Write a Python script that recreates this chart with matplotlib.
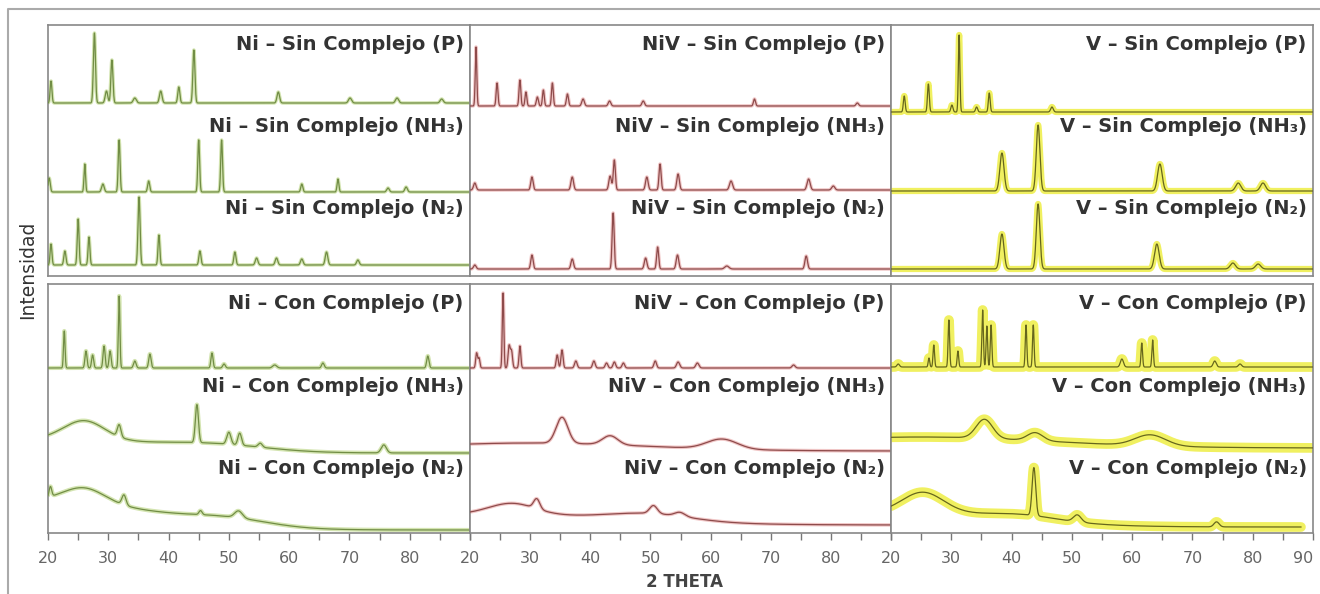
import numpy as np
import matplotlib.pyplot as plt
from matplotlib.lines import Line2D

# peaks: (2 theta, height, fwhm)
NI_SIN_P = [(20.5, 22, 0.35), (27.7, 70, 0.4), (29.7, 12, 0.5), (30.6, 43, 0.4), (34.4, 5, 0.6),
            (38.7, 12, 0.5), (41.7, 16, 0.4), (44.2, 53, 0.4), (58.2, 11, 0.5), (70.1, 5, 0.6),
            (77.9, 5, 0.6), (85.3, 4, 0.6)]
NI_SIN_NH3 = [(20.2, 14, 0.4), (26.1, 28, 0.3), (29.1, 8, 0.5), (31.8, 52, 0.35), (36.7, 11, 0.4),
              (45.0, 52, 0.35), (48.8, 52, 0.35), (62.1, 8, 0.4), (68.1, 13, 0.35), (76.4, 4, 0.5),
              (79.4, 5, 0.5)]
NI_SIN_N2 = [(20.5, 21, 0.35), (22.8, 14, 0.4), (25.0, 46, 0.35), (26.8, 28, 0.35), (35.1, 68, 0.4),
             (38.4, 30, 0.35), (45.2, 14, 0.4), (51.0, 13, 0.4), (54.6, 7, 0.5), (57.9, 7, 0.5),
             (62.1, 6, 0.5), (66.2, 13, 0.5), (71.4, 5, 0.5)]

NIV_SIN_P = [(21.0, 59, 0.3), (24.5, 23, 0.35), (28.3, 26, 0.35), (29.3, 14, 0.35), (31.2, 9, 0.4),
             (32.2, 16, 0.35), (33.7, 23, 0.35), (36.2, 12, 0.4), (38.8, 7, 0.5), (43.2, 5, 0.5),
             (48.8, 5, 0.5), (67.3, 7, 0.4), (84.4, 3, 0.5)]
NIV_SIN_NH3 = [(20.8, 7, 0.5), (30.3, 13, 0.45), (37.0, 13, 0.5), (43.3, 14, 0.5), (44.0, 30, 0.4),
               (49.4, 13, 0.5), (51.6, 26, 0.4), (54.6, 16, 0.5), (63.4, 9, 0.6), (76.3, 11, 0.6),
               (80.4, 4, 0.6)]
NIV_SIN_N2 = [(20.8, 4, 0.5), (30.3, 14, 0.45), (37.0, 10, 0.5), (43.8, 56, 0.4), (49.2, 11, 0.5),
              (51.2, 22, 0.4), (54.5, 14, 0.5), (62.7, 3, 0.8), (75.9, 13, 0.5)]

V_SIN_P = [(22.2, 16, 0.35), (26.2, 28, 0.35), (30.1, 7, 0.4), (31.3, 77, 0.3), (34.2, 5, 0.4),
           (36.3, 19, 0.35), (46.7, 5, 0.5)]
V_SIN_NH3 = [(38.4, 38, 0.8), (44.4, 66, 0.7), (64.6, 27, 0.9), (77.6, 8, 1.0), (81.7, 8, 1.0)]
V_SIN_N2 = [(38.4, 35, 0.8), (44.4, 65, 0.7), (64.1, 25, 0.9), (76.7, 6, 1.0), (80.9, 5, 1.0)]

NI_CON_P = [(22.7, 37, 0.3), (26.3, 17, 0.4), (27.4, 13, 0.4), (29.3, 22, 0.4), (30.3, 17, 0.4),
            (31.8, 72, 0.3), (34.4, 7, 0.5), (36.9, 14, 0.45), (47.2, 15, 0.4), (49.2, 4, 0.5),
            (57.6, 3, 0.8), (65.6, 5, 0.5), (83.0, 12, 0.45)]
NI_CON_NH3 = [(20.0, 14, 40), (26.0, 19, 8), (48.0, 6, 20), (31.8, 12, 0.7), (44.7, 38, 0.6),
              (50.0, 12, 0.8), (51.8, 12, 0.7), (55.2, 4, 0.8), (75.7, 8, 1.0)]
NI_CON_N2 = [(20.0, 30, 40), (26.0, 14, 8), (50.0, 7, 16), (20.4, 10, 0.5), (32.6, 10, 0.8),
             (45.3, 4, 0.6), (51.6, 7, 1.5)]

NIV_CON_P = [(21.1, 15, 0.35), (21.5, 10, 0.35), (25.5, 75, 0.3), (26.5, 22, 0.4), (26.9, 17, 0.4),
             (28.3, 22, 0.35), (34.5, 13, 0.4), (35.3, 18, 0.4), (37.6, 7, 0.5), (40.6, 7, 0.5),
             (42.7, 5, 0.5), (44.0, 6, 0.5), (45.5, 5, 0.5), (50.8, 7, 0.5), (54.6, 6, 0.6),
             (57.8, 5, 0.6), (73.8, 3, 0.6)]
NIV_CON_NH3 = [(30.0, 8, 45), (35.3, 26, 2.3), (43.3, 9, 3.0), (61.9, 10, 6.0)]
NIV_CON_N2 = [(22.0, 11, 50), (27.0, 11, 9), (50.0, 7, 16), (31.1, 10, 1.2), (50.5, 8, 1.5),
              (54.9, 4, 2.0)]

V_CON_P = [(21.2, 3, 0.5), (26.3, 9, 0.3), (27.1, 22, 0.3), (29.6, 47, 0.3), (31.1, 16, 0.3),
           (35.2, 57, 0.3), (35.9, 41, 0.3), (36.6, 42, 0.3), (42.4, 42, 0.3), (43.6, 42, 0.3),
           (58.3, 8, 0.6), (61.6, 24, 0.3), (63.4, 27, 0.3), (73.7, 6, 0.6), (77.9, 3, 0.6)]
V_CON_NH3 = [(25.0, 11, 50), (35.5, 19, 3.2), (43.9, 8, 3.0), (63.0, 11, 6.0)]
V_CON_N2 = [(22.0, 15, 40), (25.3, 20, 8), (42.0, 5, 14), (43.7, 48, 0.7), (50.9, 7, 1.5),
            (74.0, 5, 1.0)]

METALS = ["Ni", "NiV", "V"]
CONDITIONS = ["Sin Complejo", "Con Complejo"]
ATMOSPHERES = ["P", "NH₃", "N₂"]

PATTERNS = {
    (0, 0): [NI_SIN_P, NI_SIN_NH3, NI_SIN_N2],
    (0, 1): [NIV_SIN_P, NIV_SIN_NH3, NIV_SIN_N2],
    (0, 2): [V_SIN_P, V_SIN_NH3, V_SIN_N2],
    (1, 0): [NI_CON_P, NI_CON_NH3, NI_CON_N2],
    (1, 1): [NIV_CON_P, NIV_CON_NH3, NIV_CON_N2],
    (1, 2): [V_CON_P, V_CON_NH3, V_CON_N2],
}
X_END = {(1, 2, 2): 88.0}

# stacking offsets of the three traces in each panel
OFFSETS = {
    (0, 0): [173, 84, 11], (0, 1): [170, 86, 7], (0, 2): [164, 85, 7],
    (1, 0): [165, 80, 3], (1, 1): [165, 82, 8], (1, 2): [166, 85, 6],
}
LABEL_Y = [[231, 149, 67], [230, 146, 65]]

LINE_COLORS = ["#718d45", "#8e4b4b", "#66661c"]
HALO_COLORS = ["#d3e4b0", "#f0c6c6", "#f0f060"]
HALO_WIDTHS = [[2.5, 2.5, 4.5], [3.0, 2.5, 7.0]]


def pattern(x, peaks):
    y = np.zeros_like(x)
    for c, h, w in peaks:
        y += h * np.exp(-4 * np.log(2) * (x - c) ** 2 / w ** 2)
    return y


fig = plt.figure(figsize=(13.2, 5.94), dpi=100)
W, H = 1320, 594
col_x = [48, 470, 891, 1313]
row_y = [(25, 276), (284, 533)]

x = np.linspace(20, 90, 3501)

for r in range(2):
    top, bottom = row_y[r]
    for c in range(3):
        ax = fig.add_axes([col_x[c] / W, 1 - bottom / H,
                           (col_x[c + 1] - col_x[c]) / W, (bottom - top) / H])
        ax.set_xlim(20, 90)
        ax.set_ylim(0, bottom - top)
        for i, peaks in enumerate(PATTERNS[(r, c)]):
            xe = X_END.get((r, c, i), 90.0)
            m = x <= xe
            y = pattern(x[m], peaks) + OFFSETS[(r, c)][i]
            ax.plot(x[m], y, color=HALO_COLORS[c], lw=HALO_WIDTHS[r][c],
                    solid_capstyle="round", zorder=2)
            ax.plot(x[m], y, color=LINE_COLORS[c], lw=0.9, zorder=3)
            label = f"{METALS[c]} – {CONDITIONS[r]} ({ATMOSPHERES[i]})"
            ax.text(0.985, LABEL_Y[r][i], label, transform=ax.get_yaxis_transform(),
                    ha="right", va="center", fontsize=14, fontweight="bold", color="#333333",
                    zorder=4)
        for s in ax.spines.values():
            s.set_color("#888888")
            s.set_linewidth(1.2)
        ax.set_yticks([])
        if r == 0:
            ax.set_xticks([])
        else:
            ticks = np.arange(20, 91, 5)
            labels = [str(t) if t % 10 == 0 and (t < 90 or c == 2) else "" for t in ticks]
            ax.set_xticks(ticks)
            ax.set_xticklabels(labels)
            ax.tick_params(axis="x", direction="out", length=5, width=1.0, color="#777777",
                           labelcolor="#666666", labelsize=11.5, pad=8)
            if c == 2:
                ax.get_xticklabels()[-1].set_horizontalalignment("right")

fig.text(684 / W, 1 - 582 / H, "2 THETA", ha="center", va="center",
         fontsize=12, fontweight="bold", color="#444444")
fig.text(28 / W, 1 - 270 / H, "Intensidad", rotation=90, ha="center", va="center",
         fontsize=13.5, color="#333333")

fig.add_artist(Line2D([8 / W, 8 / W, 1.0], [0.0, 1 - 9 / H, 1 - 9 / H],
                      transform=fig.transFigure, color="#aaaaaa", lw=1.5))

fig.savefig("out.png", dpi=100)
